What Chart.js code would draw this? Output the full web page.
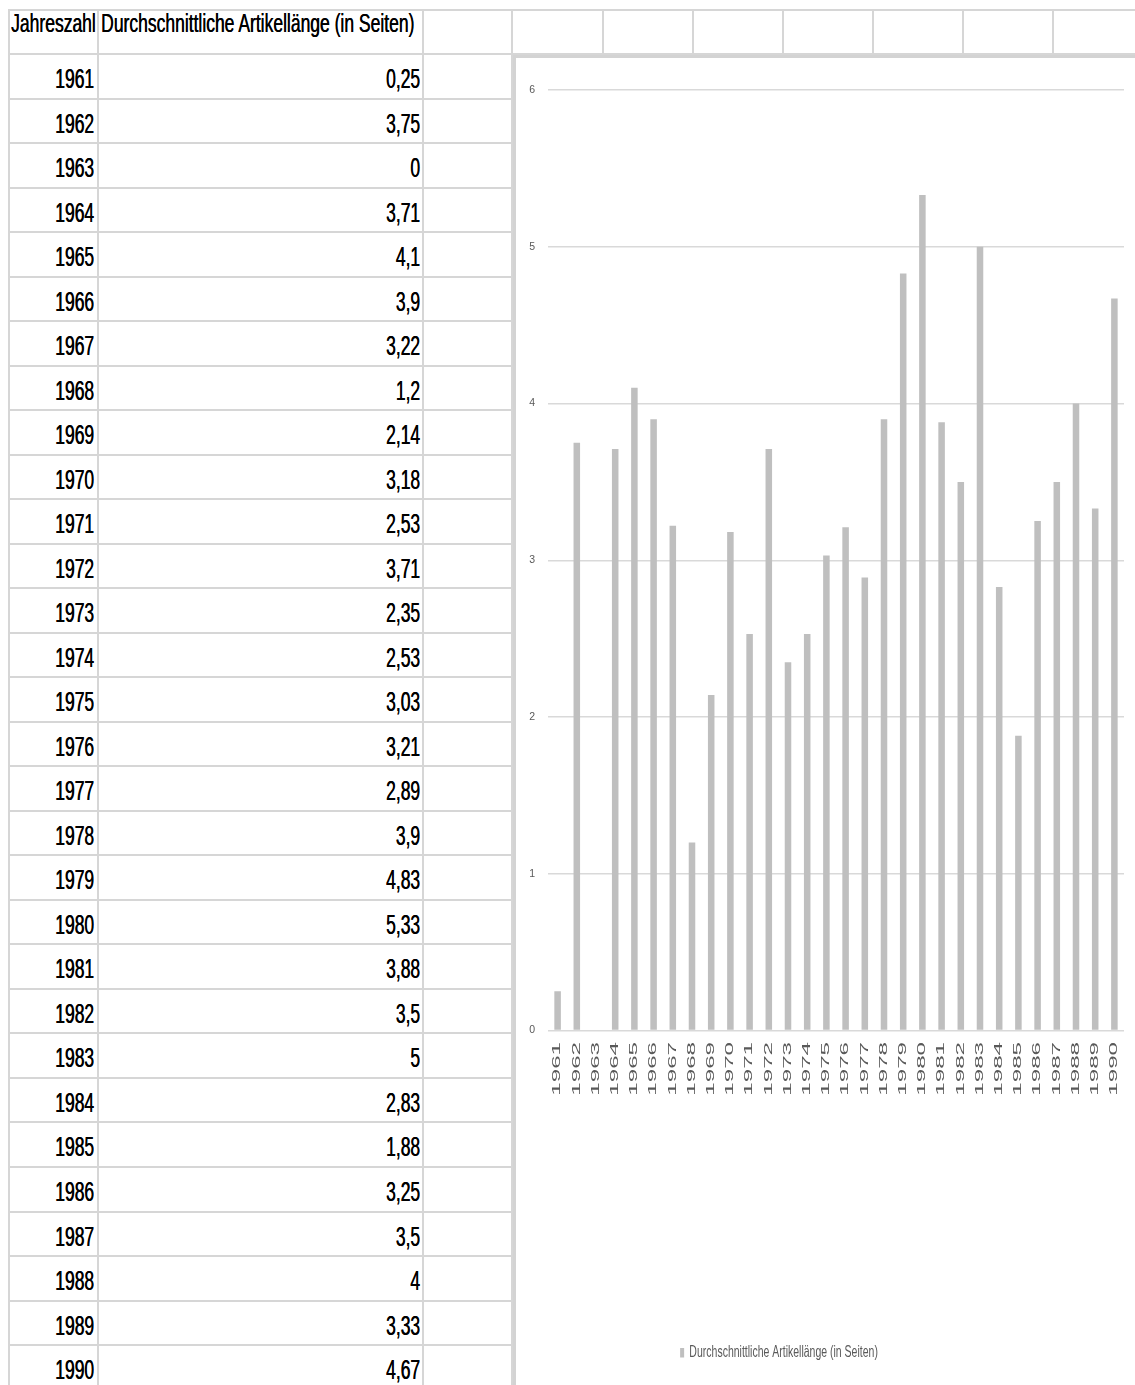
<!DOCTYPE html>
<html><head><meta charset="utf-8">
<script src="https://cdn.jsdelivr.net/npm/chart.js@4/dist/chart.umd.min.js"></script>
<style>
html,body{margin:0;padding:0;background:#fff;width:1135px;height:1385px;overflow:hidden;font-family:"Liberation Sans",Arial,sans-serif;}
#sheet{position:absolute;left:0;top:0;width:1135px;height:1385px;}
.hl{position:absolute;height:2px;background:#d6d6d6;}
.vl{position:absolute;width:2px;background:#d6d6d6;}
.txt{position:absolute;white-space:nowrap;font-size:17.5px;line-height:20px;color:#000;text-shadow:0.35px 0 0 #000;}
.txt span{display:inline-block;transform-origin:50% 16px;}
.num span{transform:scaleY(1.62);}
.hdr span{transform:scaleY(1.45);}
#chartbox{position:absolute;left:513px;top:55px;width:619px;height:1327px;background:#fff;border-left:3px solid #d3d3d3;border-top:3px solid #d3d3d3;}
#chartbox canvas{position:absolute;left:0;top:0;}
</style></head>
<body>
<div id="sheet"></div>
<div id="chartbox"><canvas id="c" width="619" height="1327"></canvas></div>
<script>
const years = ['1961','1962','1963','1964','1965','1966','1967','1968','1969','1970',
  '1971','1972','1973','1974','1975','1976','1977','1978','1979','1980',
  '1981','1982','1983','1984','1985','1986','1987','1988','1989','1990'];
const avgLength = [0.25,3.75,0,3.71,4.1,3.9,3.22,1.2,2.14,3.18,
  2.53,3.71,2.35,2.53,3.03,3.21,2.89,3.9,4.83,5.33,
  3.88,3.5,5,2.83,1.88,3.25,3.5,4,3.33,4.67];
const yTickValues = [0,1,2,3,4,5,6];
const headerYear = 'Jahreszahl';
const seriesLabel = 'Durchschnittliche Artikellänge (in Seiten)';

// ---- spreadsheet grid ----
const sheet = document.getElementById('sheet');
function el(cls, css, html){ const d=document.createElement('div'); d.className=cls; Object.assign(d.style, css); if(html!==undefined) d.innerHTML=html; sheet.appendChild(d); return d; }
const ROW0 = 54, ROWH = 44.52;
el('hl', {left:'8px', top:'9px', width:'1127px'});
el('hl', {left:'8px', top:(ROW0-1)+'px', width:'1127px'});
[603,693,783,873,963,1053].forEach(x=>el('vl',{left:(x-1)+'px', top:'9px', height:(ROW0-9)+'px'}));
[9,98,423,512].forEach(x=>el('vl',{left:(x-1)+'px', top:'9px', height:(1385-9)+'px'}));
for(let i=1;i<=years.length;i++){
  const y = ROW0 + i*ROWH;
  el('hl', {left:'8px', top:(y-1)+'px', width:'505px'});
}
el('txt hdr', {left:'11px', top:(32-16)+'px'}, '<span style="transform-origin:0 16px">'+headerYear+'</span>');
el('txt hdr', {left:'101px', top:(32-16)+'px'}, '<span style="transform-origin:0 16px">'+seriesLabel+'</span>');
years.forEach((yr,i)=>{
  const top = ROW0 + i*ROWH;
  const base = top + 34;
  el('txt num', {right:(1135-94)+'px', top:(base-16)+'px', textAlign:'right'}, '<span>'+yr+'</span>');
  el('txt num', {right:(1135-420)+'px', top:(base-16)+'px', textAlign:'right'}, '<span>'+String(avgLength[i]).replace('.',',')+'</span>');
});

// ---- chart ----
const X_STRETCH = 2.3, LEGEND_STRETCH = 1.55;
function stretchXLabels(scale){
  if (scale._stretched) return;
  scale._stretched = true;
  const orig = scale.drawLabels;
  scale.drawLabels = function(area){
    const ctx = this.ctx; const y0 = this.top;
    ctx.save(); ctx.translate(0,y0); ctx.scale(1,X_STRETCH); ctx.translate(0,-y0);
    orig.call(this, area);
    ctx.restore();
  };
}
const legendTweak = {
  id:'legendTweak',
  afterLayout(chart){
    const lg = chart.legend; if(!lg) return;
    lg.left -= 41; lg.right -= 41;
    if(!lg._stretched){
      lg._stretched = true;
      const orig = lg.draw;
      lg.draw = function(){
        const ctx=this.ctx; const cy=(this.top+this.bottom)/2;
        ctx.save(); ctx.translate(0,cy); ctx.scale(1,LEGEND_STRETCH); ctx.translate(0,-cy);
        orig.call(this);
        ctx.restore();
      };
    }
  }
};
new Chart(document.getElementById('c').getContext('2d'), {
  type:'bar',
  data:{labels:years, datasets:[{label:seriesLabel, data:avgLength, backgroundColor:'#bfbfbf', borderWidth:0, barPercentage:0.34, categoryPercentage:1}]},
  options:{
    responsive:false, animation:false, devicePixelRatio:1,
    layout:{padding:{left:0,right:11,top:32,bottom:17}},
    plugins:{
      legend:{position:'bottom', labels:{font:{family:'Liberation Sans', size:10.5}, color:'#595959', boxWidth:4, boxHeight:6, padding:10}},
      tooltip:{enabled:false}
    },
    scales:{
      x:{grid:{display:false, drawTicks:false}, border:{display:false},
         ticks:{minRotation:90, maxRotation:90, autoSkip:false, padding:5, font:{family:'Liberation Sans', size:10.5}, color:'#595959'},
         afterFit:s=>{s.height=307;}, afterUpdate:stretchXLabels},
      y:{min:0, max:6, afterBuildTicks:s=>{s.ticks = yTickValues.map(v=>({value:v}));},
         ticks:{padding:13, font:{family:'Liberation Sans', size:10.5}, color:'#595959'},
         grid:{color:'#d9d9d9', lineWidth:1.5, drawTicks:false}, border:{display:false},
         afterFit:s=>{s.width=32;}}
    }
  },
  plugins:[legendTweak]
});
</script>
</body></html>
